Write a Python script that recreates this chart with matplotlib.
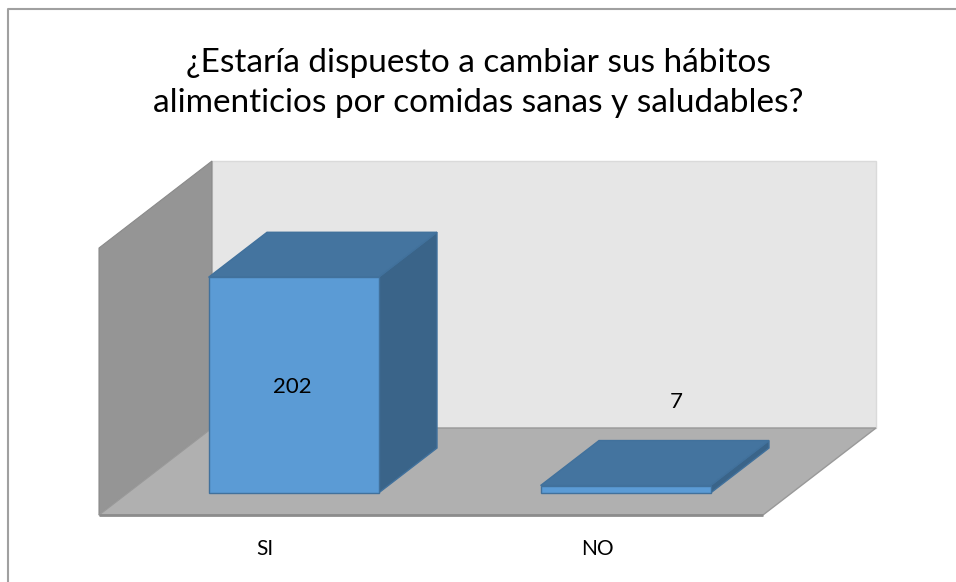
import numpy as np
import matplotlib
matplotlib.use("Agg")
import matplotlib.pyplot as plt
from matplotlib.patches import Polygon

plt.rcParams['font.family'] = ['Lato', 'DejaVu Sans']

# data
categories = ["SI", "NO"]
values = [202, 7]
axis_max = 250
title = "¿Estaría dispuesto a cambiar sus hábitos\nalimenticios por comidas sanas y saludables?"

# layout of the fake 3d box (pixel units, y down)
x0, y0 = 99, 515          # front-left corner of the floor
cat_w = 332               # width of one category on the front edge
depth_dx, depth_dy = 113, 87
val_scale = 267 / axis_max
bar_frac = 0.512
bar_d0, bar_d1 = 0.253, 0.77

front_col = "#5B9BD5"
top_col = "#44749F"
side_col = "#3A6489"
edge_col = "#41719C"


def proj(cx, v, d):
    # category position, value, depth (0 front .. 1 back) -> pixel coords
    return (x0 + cx * cat_w + d * depth_dx,
            y0 - v * val_scale - d * depth_dy)


fig = plt.figure(figsize=(9.56, 5.82), dpi=100)
ax = fig.add_axes([0, 0, 1, 1])
ax.set_xlim(0, 956)
ax.set_ylim(582, 0)
ax.axis("off")

ncat = len(categories)

# walls and floor
back = [proj(0, 0, 1), proj(ncat, 0, 1), proj(ncat, axis_max, 1), proj(0, axis_max, 1)]
ax.add_patch(Polygon(back, closed=True, facecolor="#E6E6E6", edgecolor="#DADADA", lw=1, zorder=1))
side = [proj(0, 0, 0), proj(0, 0, 1), proj(0, axis_max, 1), proj(0, axis_max, 0)]
ax.add_patch(Polygon(side, closed=True, facecolor="#959595", edgecolor="#8A8A8A", lw=0.8, zorder=2))
floor = [proj(0, 0, 0), proj(0, 0, 1), proj(ncat, 0, 1), proj(ncat, 0, 0)]
ax.add_patch(Polygon(floor, closed=True, facecolor="#B0B0B0", edgecolor="#999999", lw=1, zorder=2))
fx = [proj(0, 0, 0)[0], proj(ncat, 0, 0)[0]]
fy = [proj(0, 0, 0)[1], proj(ncat, 0, 0)[1]]
ax.plot(fx, fy, color="#8C8C8C", lw=2, zorder=3, solid_capstyle="butt")

# bars
for i, (cat, v) in enumerate(zip(categories, values)):
    l = i + (1 - bar_frac) / 2
    r = l + bar_frac
    front = [proj(l, 0, bar_d0), proj(r, 0, bar_d0), proj(r, v, bar_d0), proj(l, v, bar_d0)]
    top = [proj(l, v, bar_d0), proj(r, v, bar_d0), proj(r, v, bar_d1), proj(l, v, bar_d1)]
    rside = [proj(r, 0, bar_d0), proj(r, 0, bar_d1), proj(r, v, bar_d1), proj(r, v, bar_d0)]
    ax.add_patch(Polygon(rside, closed=True, facecolor=side_col, edgecolor=edge_col, lw=1, zorder=5))
    ax.add_patch(Polygon(top, closed=True, facecolor=top_col, edgecolor=edge_col, lw=1, zorder=5))
    ax.add_patch(Polygon(front, closed=True, facecolor=front_col, edgecolor=edge_col, lw=1, zorder=6))

    # value label
    if v > axis_max * 0.3:
        lx, ly = proj(i + 0.5, v / 2, bar_d0)
        ax.text(lx - 1, ly + 2, str(v), ha="center", va="center", fontsize=16, color="black", zorder=7)
    else:
        lx, ly = proj(i + 0.5, v + 34, bar_d1)
        ax.text(lx - 8, ly - 2, str(v), ha="center", va="center", fontsize=16, color="black", zorder=7)

    # category label
    cx, cy = proj(i + 0.5, 0, 0)
    ax.text(cx, cy + 34, cat, ha="center", va="center", fontsize=15, color="black")

ax.text(478, 83, title, ha="center", va="center", fontsize=24, color="black", linespacing=1.45)

# chart border
ax.plot([8, 8, 960], [590, 9, 9], color="#A0A0A0", lw=1.5, clip_on=False)

fig.savefig("out.png", dpi=100)
